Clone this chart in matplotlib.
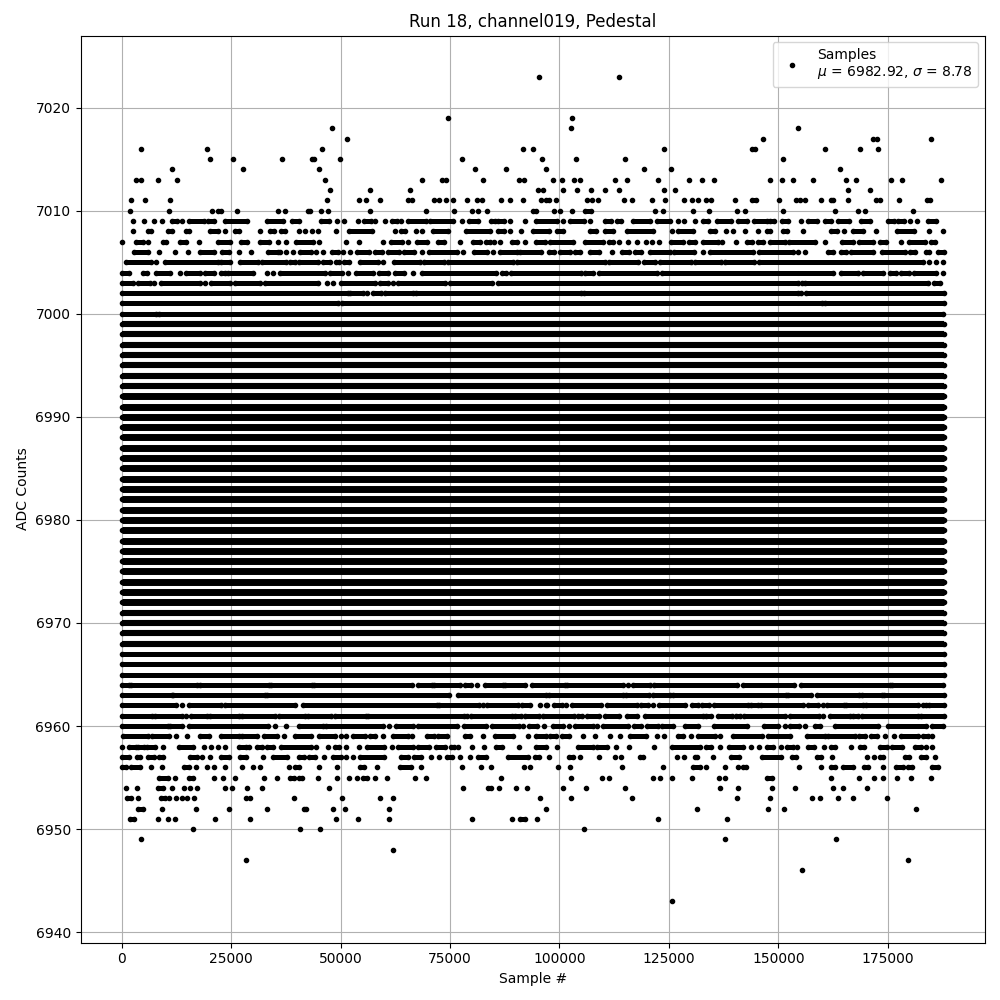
import matplotlib
matplotlib.use('Agg')
import matplotlib.pyplot as plt

# sample numbers are in thousands
# a plain number is one dot, a tuple is a stretch of touching dots
r7023 = [95.4, 113.6]
r7019 = [74.6, 102.9]
r7018 = [48.1, 102.6, 154.4]
r7017 = [51.5, 146.5, 171.5, 172.6, 184.8]
r7016 = [4.5, 19.4, 45.8, 91.7, 94, 123.9, (144, 144.6), 160.6, 168.6, 172.7]
r7015 = [20.3, 25.5, 36.7, (43.4, 44), 49.9, 77.8, 96, 103.8, 115, 151]
r7014 = [11.6, 27.8, 45.1, 80.7, 87.8, 97, 119.3, 125.5, 164]
r7013 = [3.2, 4.5, 8.2, 12.7, 46.5, 68.7, 73.1, 74, 82.6, 90.8, 91.9, 98.5, 100.6, 103.3, 104.7, 112.7, 115.4,
         122.5, 129.6, 132.5, 135.3, 148.1, 150.8, 153.3, 157.9, 165.4, 167.7, 175.7, 178.2, 187.1]
r7012 = [47.7, 56.8, 65.9, 95.1, 96.3, 100.8, 104, 107.2, 110.4, 113.6, 123.9, 126.4, 165.9, 170.9]
r7011 = [2.2, 5.4, 11.1, 47, 54.3, 55.9, 59.1, 65.5, 66.4, 71.4, 72.5, 74.1, 75.7, 78.9, 81.2, 82.3, 86.7, 88.7,
         91.7, 95.8, (97, 97.6), 99.2, 106.3, 107.4, 108.8, 114.7, 116.6, 121.1, 124.1, 128.4, 130.3, 131.6, 133.5,
         134.6, 140.1, (144, 144.9), 150.1, 154, 154.9, 156.1, 159.7, (162, 162.4), 165.9, 172.3, 173.2, 177.5,
         (183.9, 184.6)]
r7010 = [2, 10.9, 20.7, (22.1, 22.8), 26.4, 35.8, 37.4, (42.6, 43), 45.6, 47.2, 56.8, 69.6, 75.9, 80, 81.4, 83.5,
         (94, 94.7), 98.8, 100.1, 102.9, (105.8, 107.1), 121.8, 123.6, 130.5, 134.1, 140.5, 142.4, 151, 162.9,
         168.1, 169.7, 180.7]
r7009 = [2.7, 5.2, 7.3, 9.3, (11.4, 12.7), 13.9, (15.3, 18.9), (19.8, 21.2), (23.7, 28.7), (33.3, 36.9), (39, 40.6),
         (45.6, 47.4), 49.3, 50.9, 54.1, (55.3, 56.9), 57.9, 60.2, (61.8, 62.9), 63.9, (65.5, 69.6), (70.5, 75.7),
         77.7, (79.4, 81.4), (84.4, 85.2), (86, 87.4), 88.7, 92.2, (94.6, 99.5), 100.8, (102.4, 105.6), 106.9,
         (110.4, 111.8), (113.1, 114), (116.8, 120.7), (122.3, 125.2), 127.1, 128.4, 130.9, (132.8, 133.9),
         (136, 139.2), (140.8, 142.8), (144.4, 147.4), (148.1, 149), (150.8, 152.2), 155.1, (156.7, 158.8),
         (160.6, 162), (163.6, 166.2), (168.8, 170.9), (175, 176.4), (177.3, 178.6), 180, 181.6, (184.1, 185.9)]
r7008 = [2.7, (6.1, 6.8), (10.5, 11.4), (14.8, 15.5), (20.3, 21.9), 23.5, (25.8, 26.9), 31.7, (34, 34.9), (36.5, 37.4),
         40.6, 41.9, 43.5, 44.9, 49, (52, 57.3), 62.5, (63.9, 64.8), 67.3, 68.7, (71.2, 74.6), (78.7, 84.1),
         (86, 87.4), 88.7, 91.2, (94, 97.6), (99.5, 100.8), (107, 108.4), (110.4, 112.2), (115.4, 121.4), 125.7,
         (127.1, 130.5), (134.4, 135.5), 138, 139.6, 142.4, 145.3, (147.4, 148.1), (151, 151.9), 155.6, (162, 163.4),
         164.9, (167, 169.3), 172.3, (177, 180.9), 184.4, 187.7]
r7007 = [0.2, (3.2, 4.8), 6.1, (9.5, 10.2), (13.4, 14.6), 17.6, (21.9, 24.8), (27.3, 28.7), (31.5, 33.7), 35.8, 37.6,
         (39.9, 43.8), 45.1, 51.3, 54.3, 59.8, (61.6, 64.1), 65.5, (67.5, 69.8), (72.3, 73.7), 77.3, (80.3, 81.9),
         (83.3, 84.2), 85.1, 86.5, (89.2, 90.2), 92.2, (94.7, 96.7), (97.9, 103.1), (105.8, 109.9), (111.3, 112.2),
         113.6, 115.7, 117.7, 119.8, 121.1, 122.7, (125.5, 128.2), (129.6, 130.9), (132.8, 136.2), 137.1, 140.3,
         (142.8, 144), (145.3, 146.5), (148.1, 151.5), (152.4, 158.3), 160.6, (164.5, 167), (168.4, 171.6),
         (173.2, 174.5), 178, (179.8, 183.4), (184.8, 185.7)]
r7006 = [(2.9, 6.1), 8.6, 12.3, 15.2, (17.9, 21), (22.9, 24.6), 26.7, 29.6, (33.5, 35.8), 36.2, 37.6, 39.2,
         (40.7, 43.3), 44.5, 46.1, (48.1, 49.5), 50.6, 52.2, (53.7, 56.6), (57.9, 59.5), (60.9, 63.4), (64.5, 66.8),
         68.7, (70.3, 76.5), 77.9, (80.5, 83.5), 84.9, (86.5, 90.2), (91.1, 95.8), (97.6, 98.8), (100.1, 102.4),
         (103.6, 104.7), (107, 109), 112, (114.3, 115.9), (117.3, 118.6), (120.7, 125.2), (126.2, 130.7), 132.8,
         (134.4, 144.2), (145.6, 153.3), 154.5, 156.1, (161.3, 162.4), (164.3, 165.4), (166.5, 171.6), (173.6, 178.9),
         (180, 181.2), (183.7, 184.4), (186.4, 187.8)]
r7005 = [(0.9, 6.6), 7.9, (9.8, 22.1), (22.6, 24.8), (27.1, 31.2), (32.1, 37.6), (38.5, 39.7), (40.4, 44.9), (46.1, 47.7),
         (49, 49.7), (50.9, 52), (54.5, 58.6), 59.8, (62.3, 68.1), (69.1, 73.7), (74.6, 89.4), (90.3, 110.4),
         (111.3, 117.9), (119.3, 121.8), (123, 130), (130.9, 136.9), (137.8, 144.4), (145.6, 183), 184.5, 185.9, 187.5]
r7004 = [(0.2, 1.6), (4.8, 5.8), (7.9, 11.1), 13.4, (14.8, 17.8), (19.1, 21), (22.6, 23.7), (24.4, 30.1), 33.3, 34.6,
         (36.2, 46.5), (47.7, 50.4), 51.8, (53.6, 57.5), (58.8, 60.9), (62.5, 64.5), 66.6, (68.7, 85.6), (86.8, 87.9),
         (89, 104.9), (105.8, 107.7), (109, 122.3), (123.4, 162.4), (164.3, 168.1), (169.3, 173.9), (175.5, 176.8),
         (178, 179.8), (180.9, 186), 187.5]
r7003 = [(0, 2.7), (3.8, 6.4), 7.5, (9.1, 18), 19.1, (20.5, 24.8), (25.8, 31.7), (32.8, 44.9), 47, 48.3, (50, 57.9),
         (59.1, 60.9), 62, (63.2, 73.8), (75, 84.5), (86, 154.5), 155.4, (156.1, 184.1), (185.5, 186.9)]
r7002 = [(0, 51.8), (52.2, 55.2), 56.1, (57.5, 59.3), (60.2, 66.6), (67.3, 105), (105.6, 154.5), 155.1, (156.3, 187.8)]
r7001 = [(0, 49.5), (50.4, 159.9), (160.6, 187.8)]
r7000 = [(0, 7.9), (8.6, 187.7)]

r6967 = [(0.2, 187.8)]
r6966 = [(0, 187.8)]
r6965 = [(0, 187.8)]
r6964 = [(0, 1.6), (2.2, 17.3), (18, 33.7), (34.2, 43.5), (44, 66.4), (67.7, 70.9), (71.4, 77.2), (78.5, 79.8), 81.2,
         (83, 87.1), (87.6, 92.2), (93.8, 101.3), (101.7, 114.5), 115.7, (116.8, 120.7), (121.6, 140.5),
         (141.9, 153.5), (155.1, 175.4), (175.9, 187.5)]
r6963 = [(0.2, 11.4), (11.8, 32.7), (33.2, 74.8), (76.9, 97), (97.6, 114.5), (115.2, 120.5), (121.4, 125.2), (125.9, 151.8),
         (152.2, 157.4), (158.8, 168.4), (169.1, 173.6), (174.1, 187.8)]
r6962 = [(0, 12.5), 13.7, (15.3, 22.6), (23.5, 39.7), (41.5, 72.1), (72.5, 81.7), 82.6, (83.5, 90.6), (91.5, 93.2),
         95.6, (97, 97.2), (98.8, 100.6), 101.5, (102.9, 109.5), (110.9, 117.7), (118.6, 120.2), 121.4, (122.7, 128.7),
         (130.3, 131.6), (132.5, 134.1), (135.3, 143), (143.7, 145.3), (146, 155.6), (156.7, 159), 160.2,
         (161.1, 164.9), (165.5, 169.3), (170.1, 181.8), (183, 183.7), (184.4, 187.8)]
r6961 = [(0, 7), (7.7, 13.9), 14.8, (15.9, 19.6), (20.3, 26.9), (27.6, 35.1), (36, 41.9), (42.6, 47.9), (48.8, 55.9),
         (56.3, 78.2), 78.9, (79.8, 89.2), (89.9, 91.2), (92.2, 95.4), (96.3, 103.3), (104.2, 105.2), (106.3, 109),
         (110.4, 113.6), (115.4, 117.7), (119.5, 132.8), (133.5, 134.6), (136.2, 139.4), (140.3, 141.2), (142.1, 151.5),
         (152.6, 159.3), 160.2, (161.8, 166.3), (167, 168.1), (169.1, 181.8), (182.5, 187.8)]
r6960 = [(0, 10.5), (11.1, 13.7), (15.5, 33.5), 35.1, 37.6, (40.6, 46.1), (46.7, 59.8), 61.1, (62.7, 66.6), (67.7, 76.5),
         (78.2, 83.3), (84.6, 90.8), 91.7, (93.1, 94.9), 96.5, (98.5, 100.8), 102.2, (103.6, 107.7), 108.6, (109.9, 115.7),
         (117, 118.6), (120, 122.5), (123.4, 125.9), (128.7, 131.6), (135.3, 142.8), (146.7, 149.9), 151.5, (152.6, 154.7),
         156.1, (158.3, 159.5), (162.9, 172.7), (175, 183.7), (185, 187.5)]
r6959 = [(0.4, 6.1), (7, 10.9), 12.5, 15, (17.9, 20), (22.6, 26.7), (27.6, 31), (32.6, 35.6), 37.2, (39.7, 43.3),
         (45.1, 48.8), 50, 51.3, (52.9, 55.6), (56.8, 57.9), 59.6, (62, 65.5), 66.4, (69.8, 71.4), (72.3, 74.4),
         (78.5, 79.6), 82.6, (85.3, 89.4), 92.8, (94.7, 97), (97.9, 99.2), (100.6, 102.2), 105.4, 108.1, 111.6, 113.8,
         (116.1, 119.8), 122.3, 123.9, (127.1, 128.2), 130, (131.6, 135.5), 136.7, (139.6, 146.2), (147.6, 152.6),
         (156.5, 160.6), (161.3, 167.5), (168.4, 169.7), (171.1, 172.5), 174.3, 176.4, (178, 181.8), (183, 184.1), 185]
r6958 = [0, (1.8, 3.2), (3.8, 5.2), (5.9, 7.7), 9.5, (13.2, 16.4), 18.9, 20.5, 22.1, 23.7, (26.7, 28.3), 29.2, (31, 32.1),
         (33.3, 34.6), (36.5, 43.3), 44.5, 47.2, (48.8, 49.7), 51.3, 54.3, (56.1, 60), 61.8, (63.2, 66.6), (67.7, 70.3),
         (71.9, 73.9), (75.3, 75.9), 76.9, 80, 82.8, (85.5, 86.9), 90.8, (94.6, 97), 99.5, (104.2, 107.7), (108.6, 110.9),
         113, 115.9, 121.6, (125.7, 132.1), (133.5, 134.6), 136.7, (138.7, 141.9), 143.7, 145.6, (147.4, 148.7), 150.6,
         (151.9, 153.3), 154.2, (156.7, 158.1), 160.4, (162, 162.9), 166.5, (168.6, 169.5), (173.2, 174.8), (175.9, 178.2),
         (181.2, 182.5), 183.7, 185]
r6957 = [(0.2, 1.6), (3.4, 4.1), (6.1, 7.5), (8.6, 9.5), (15.7, 17.3), 18.4, 20.3, (22.8, 24.6), (27.1, 28.5), 32.4,
         (34.6, 37.8), (40.4, 41.7), (42.9, 44.2), 46.3, (48.3, 50.2), 51.3, 52.9, (54.5, 60), (63.9, 65.5), (66.8, 68.4),
         70.7, 72.5, (74.4, 75.5), 77.3, 79.6, (81.4, 83.3), (88.3, 92.8), (94.4, 95.4), 97.6, (102.2, 103.1), 104.7, 109,
         112.7, 114, (118.4, 119.1), 126.8, 128.4, (130.9, 131.4), 135.1, (139.2, 141), (146.2, 150.6), (153.1, 154),
         (158.8, 159.7), 162.2, 170.2, 171.8, (173.2, 173.9), (178.9, 179.8), (182.6, 183.7), 185.7]
r6956 = [(0.2, 1.1), (2.2, 4.1), 6.8, 9.3, (14.3, 15.5), 17.1, 19.6, 21.2, 23.5, 27.6, 30.1, 31.7, 38.3, (39.7, 40.6), 45.1,
         49.3, (54.5, 55.4), 58.4, (63.6, 66.1), 68.4, 77.8, 82.1, 84.4, 91.9, 93.3, 99.7, 102.4, 114.3, 123.6,
         (130.5, 132.1), 133.5, 137.8, 140.8, (141.9, 142.6), 154.7, 159.7, (162, 162.9), (164.7, 167), (169.5, 170.4),
         173.9, (176.8, 178.4), (179.6, 180.5), (185, 186.4)]
r6955 = [(8.6, 10.7), 12.3, (15.5, 16.4), 21.2, 23.2, 26, 32.6, 35.6, (38.5, 39.4), (40.4, 41.3), 44.9, 49.3, 52, 53.8,
         (55.2, 56.1), 57.9, 60.7, 67.1, 69.6, 86.7, 102.6, 109.7, 111.3, 121.4, 123, 125.7, 130.3, 136.4, 137.8,
         (147.4, 148.5), 162, 168.4, 171.8, 173.9, 177, 180.2, 184.8]
r6954 = [0.9, 3.4, (8.2, 9.5), 11.6, 14.3, 15.7, 17.3, 23.5, 25.1, 28.7, 32.1, 47.4, 78, (83.7, 84.4), 86.2, 90.1, 92.6,
         100.8, 106.1, 115, 136.7, 140.8, 148.5, 153.8, 162.4, 164.7, 170.2]
r6953 = [(1.3, 2.2), 3.8, (8.9, 9.8), 10.9, 12.5, 13.7, 15, 16.6, 28.3, 29.4, 39.4, 50.4, 59.1, 62, 95.6, 102.6, 116.6,
         140.5, 148.1, 157.6, 159.5, 163.6, 167, 174.8]
r6952 = [(3.8, 4.8), 9.3, 17.1, 24.6, 33.3, (41.7, 42.2), 48.3, 51.1, 61.1, 97, 131.4, 147.6, 151.3, 181.4]
r6951 = [(2, 2.9), 8.2, 10.5, 12.1, 21.4, 29.4, 49, 54.1, 61.1, 80, 89.2, (91, 92.2), 94.9, 122.5, 138.3]
r6950 = [16.4, 40.8, 45.4, 105.6]
r6949 = [4.5, 137.8, 163.1]
r6948 = [62]
r6947 = [28.3, 179.6]
r6946 = [155.4]
r6943 = [125.7]

rows = {7023: r7023, 7019: r7019, 7018: r7018, 7017: r7017, 7016: r7016, 7015: r7015, 7014: r7014, 7013: r7013,
        7012: r7012, 7011: r7011, 7010: r7010, 7009: r7009, 7008: r7008, 7007: r7007, 7006: r7006, 7005: r7005,
        7004: r7004, 7003: r7003, 7002: r7002, 7001: r7001, 7000: r7000, 6967: r6967, 6966: r6966, 6965: r6965,
        6964: r6964, 6963: r6963, 6962: r6962, 6961: r6961, 6960: r6960, 6959: r6959, 6958: r6958, 6957: r6957,
        6956: r6956, 6955: r6955, 6954: r6954, 6953: r6953, 6952: r6952, 6951: r6951, 6950: r6950, 6949: r6949,
        6948: r6948, 6947: r6947, 6946: r6946, 6943: r6943}

# rows so dense that they are one solid band over the whole run
solid_levels = list(range(6968, 7000))
solid_start = 0
solid_end = 187.8
mu = 6982.92
sigma = 8.78

fig, ax = plt.subplots(figsize=(10, 10), dpi=100)

dots_x, dots_y = [], []
bar_y, bar_a, bar_b = [], [], []
for level, row in rows.items():
    for item in row:
        if isinstance(item, tuple):
            dots_x += [item[0] * 1000, item[1] * 1000]
            dots_y += [level, level]
            bar_y.append(level)
            bar_a.append(item[0] * 1000)
            bar_b.append(item[1] * 1000)
        else:
            dots_x.append(item * 1000)
            dots_y.append(level)

ax.hlines(bar_y, bar_a, bar_b, color='black', linewidth=3.6, zorder=2)
for level in solid_levels:
    dots_x += [solid_start * 1000, solid_end * 1000]
    dots_y += [level, level]
    lw = 5.0 if 6972 <= level <= 6992 else 4.4
    ax.hlines(level, solid_start * 1000, solid_end * 1000, color='black', linewidth=lw, zorder=2)

ax.plot(dots_x, dots_y, '.', color='black',
        label='Samples\n$\\mu$ = %.2f, $\\sigma$ = %.2f' % (mu, sigma))

ax.set_title('Run 18, channel019, Pedestal')
ax.set_xlabel('Sample #')
ax.set_ylabel('ADC Counts')
ax.grid(True)
ax.legend(loc='upper right')

fig.subplots_adjust(left=0.0805, right=0.985, top=0.9645, bottom=0.0575)
fig.savefig('out.png')
